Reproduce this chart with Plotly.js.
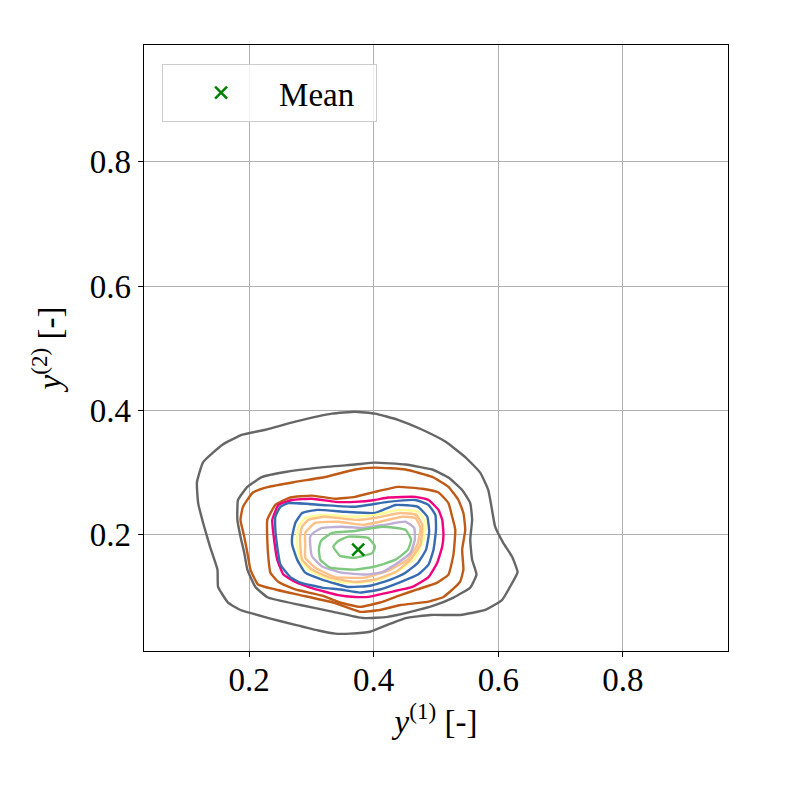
<!DOCTYPE html>
<html>
<head>
<meta charset="utf-8">
<script src="https://cdn.plot.ly/plotly-3.0.1.min.js"></script>
<style>html,body{margin:0;padding:0;background:#fff;}#chart{width:789px;height:789px;}</style>
</head>
<body>
<div id="chart"></div>
<script>
// Contour levels (outermost to innermost)
const level1X = [0.116,0.126,0.157,0.189,0.226,0.274,0.333,0.370,0.402,0.439,0.478,0.515,0.547,0.571,0.584,0.590,0.595,0.608,0.622,0.631,0.621,0.606,0.579,0.539,0.491,0.451,0.427,0.394,0.362,0.338,0.311,0.274,0.231,0.186,0.166,0.150,0.149,0.137,0.126,0.118];
const level1Y = [0.284,0.317,0.345,0.361,0.369,0.382,0.395,0.398,0.395,0.385,0.369,0.350,0.325,0.300,0.272,0.240,0.213,0.187,0.165,0.140,0.120,0.095,0.079,0.071,0.071,0.066,0.057,0.044,0.041,0.041,0.046,0.055,0.066,0.079,0.091,0.116,0.144,0.181,0.219,0.251];

const level2X = [0.181,0.182,0.197,0.221,0.258,0.311,0.370,0.402,0.451,0.494,0.520,0.542,0.555,0.558,0.555,0.558,0.565,0.555,0.528,0.496,0.459,0.422,0.383,0.335,0.282,0.230,0.210,0.197,0.192,0.186];
const level2Y = [0.224,0.256,0.277,0.293,0.301,0.308,0.313,0.316,0.313,0.305,0.292,0.272,0.251,0.224,0.192,0.160,0.136,0.115,0.099,0.086,0.076,0.068,0.066,0.076,0.087,0.099,0.116,0.144,0.171,0.197];

const level3X = [0.186,0.190,0.206,0.231,0.274,0.322,0.370,0.402,0.451,0.494,0.520,0.536,0.544,0.547,0.542,0.544,0.539,0.531,0.512,0.486,0.443,0.410,0.378,0.335,0.282,0.242,0.214,0.202,0.197,0.192];
const level3Y = [0.224,0.245,0.268,0.277,0.285,0.293,0.305,0.308,0.305,0.293,0.277,0.256,0.235,0.208,0.176,0.144,0.125,0.116,0.100,0.092,0.087,0.079,0.076,0.091,0.103,0.112,0.120,0.144,0.171,0.197];

const level4X = [0.229,0.242,0.266,0.301,0.338,0.370,0.402,0.439,0.478,0.504,0.520,0.526,0.531,0.528,0.520,0.502,0.470,0.443,0.410,0.378,0.346,0.317,0.274,0.247,0.234,0.231,0.229];
const level4Y = [0.224,0.248,0.260,0.263,0.258,0.261,0.269,0.277,0.274,0.268,0.251,0.229,0.208,0.168,0.136,0.123,0.112,0.103,0.091,0.084,0.091,0.102,0.112,0.124,0.139,0.160,0.192];

const level5X = [0.237,0.247,0.269,0.301,0.338,0.370,0.402,0.423,0.467,0.488,0.504,0.510,0.512,0.510,0.502,0.488,0.462,0.423,0.391,0.370,0.343,0.298,0.274,0.255,0.245,0.240];
const level5Y = [0.224,0.248,0.256,0.258,0.253,0.253,0.256,0.260,0.261,0.256,0.240,0.224,0.200,0.181,0.155,0.132,0.116,0.107,0.100,0.100,0.103,0.115,0.124,0.136,0.160,0.192];

const level6X = [0.242,0.250,0.263,0.317,0.370,0.423,0.467,0.488,0.499,0.500,0.496,0.488,0.471,0.443,0.410,0.378,0.346,0.317,0.282,0.266,0.250,0.245,0.242];
const level6Y = [0.229,0.245,0.251,0.248,0.245,0.253,0.256,0.248,0.232,0.208,0.176,0.152,0.136,0.124,0.112,0.107,0.112,0.115,0.123,0.132,0.152,0.181,0.208];

const level7X = [0.269,0.274,0.285,0.309,0.354,0.402,0.435,0.471,0.486,0.489,0.484,0.471,0.451,0.427,0.394,0.359,0.317,0.290,0.277,0.269];
const level7Y = [0.197,0.219,0.235,0.240,0.237,0.235,0.248,0.245,0.229,0.205,0.176,0.155,0.139,0.128,0.118,0.116,0.128,0.139,0.160,0.184];

const level8X = [0.277,0.279,0.290,0.317,0.370,0.402,0.443,0.471,0.483,0.480,0.467,0.443,0.410,0.378,0.346,0.322,0.295,0.282,0.277];
const level8Y = [0.197,0.213,0.227,0.232,0.229,0.232,0.240,0.237,0.221,0.192,0.163,0.144,0.128,0.123,0.124,0.131,0.144,0.160,0.184];

const level9X = [0.282,0.285,0.295,0.322,0.370,0.402,0.443,0.468,0.478,0.475,0.459,0.435,0.402,0.370,0.327,0.301,0.285,0.282];
const level9Y = [0.200,0.213,0.224,0.229,0.224,0.227,0.235,0.232,0.216,0.184,0.160,0.140,0.128,0.124,0.132,0.144,0.160,0.184];

const level10X = [0.290,0.306,0.343,0.382,0.410,0.446,0.467,0.475,0.470,0.454,0.427,0.386,0.354,0.338,0.306,0.290,0.290];
const level10Y = [0.203,0.219,0.221,0.216,0.221,0.229,0.227,0.211,0.184,0.160,0.144,0.131,0.131,0.132,0.147,0.163,0.184];

const level11X = [0.298,0.303,0.317,0.349,0.382,0.418,0.451,0.465,0.466,0.459,0.439,0.414,0.386,0.349,0.317,0.301,0.298];
const level11Y = [0.197,0.203,0.211,0.213,0.211,0.216,0.221,0.211,0.192,0.171,0.155,0.140,0.136,0.139,0.149,0.165,0.184];

const level12X = [0.314,0.317,0.333,0.370,0.414,0.451,0.460,0.455,0.435,0.402,0.370,0.330,0.314,0.312];
const level12Y = [0.187,0.192,0.203,0.206,0.213,0.208,0.192,0.176,0.160,0.149,0.144,0.147,0.160,0.176];

const level13X = [0.335,0.343,0.359,0.391,0.402,0.398,0.370,0.346];
const level13Y = [0.181,0.190,0.197,0.195,0.181,0.171,0.163,0.166];

const meanX = [0.375];
const meanY = [0.176];

const tickVals = [0.2, 0.4, 0.6, 0.8];
const tickText = ['0.2', '0.4', '0.6', '0.8'];

// Styles
const levelColors = ['#666666','#666666','#bf5b17','#bf5b17','#f0027f','#386cb0','#386cb0','#ffff99','#fdc086','#fdc086','#beaed4','#7fc97f','#7fc97f'];

const levels = [
  [level1X, level1Y],[level2X, level2Y],[level3X, level3Y],[level4X, level4Y],
  [level5X, level5Y],[level6X, level6Y],[level7X, level7Y],[level8X, level8Y],
  [level9X, level9Y],[level10X, level10Y],[level11X, level11Y],[level12X, level12Y],
  [level13X, level13Y]
];

const traces = levels.map(function (lv, i) {
  return {
    type: 'scatter', mode: 'lines',
    x: lv[0].concat([lv[0][0]]),
    y: lv[1].concat([lv[1][0]]),
    line: {color: levelColors[i], width: 2.4, shape: 'spline', smoothing: 0.4},
    showlegend: false, hoverinfo: 'skip'
  };
});

traces.push({
  type: 'scatter', mode: 'markers', x: meanX, y: meanY, name: 'Mean&nbsp;&nbsp;',
  marker: {symbol: 'x-thin', size: 12, color: 'green', line: {color: 'green', width: 2.5}}
});

const fontFam = 'Liberation Serif, Times New Roman, serif';
const axisCommon = {
  tickvals: tickVals, ticktext: tickText,
  showgrid: true, gridcolor: '#b0b0b0', gridwidth: 1,
  showline: true, mirror: true, linecolor: '#000', linewidth: 1.3,
  ticks: 'outside', ticklen: 5, tickwidth: 1.2, tickcolor: '#000',
  tickfont: {family: fontFam, size: 33, color: '#000'},
  zeroline: false
};

const layout = {
  width: 789, height: 789,
  margin: {l: 144, r: 61, t: 45, b: 138},
  paper_bgcolor: '#fff', plot_bgcolor: '#fff',
  font: {family: fontFam, color: '#000'},
  xaxis: Object.assign({}, axisCommon, {
    range: [0.031, 0.969],
    ticklabelstandoff: -6,
    title: {text: '<i>y</i><sup>(1)</sup> [-]', font: {family: fontFam, size: 33, color: '#000'}, standoff: 12}
  }),
  yaxis: Object.assign({}, axisCommon, {
    range: [0.013, 0.988],
    title: {text: '<i>y</i><sup>(2)</sup> [-]', font: {family: fontFam, size: 33, color: '#000'}, standoff: 18}
  }),
  showlegend: true,
  legend: {
    x: 0.031, y: 0.969, xanchor: 'left', yanchor: 'top',
    bgcolor: 'rgba(255,255,255,0.8)', bordercolor: '#cccccc', borderwidth: 1,
    font: {family: fontFam, size: 33, color: '#000'},
    itemwidth: 106
  }
};

Plotly.newPlot('chart', traces, layout, {staticPlot: true, displayModeBar: false});
</script>
</body>
</html>
